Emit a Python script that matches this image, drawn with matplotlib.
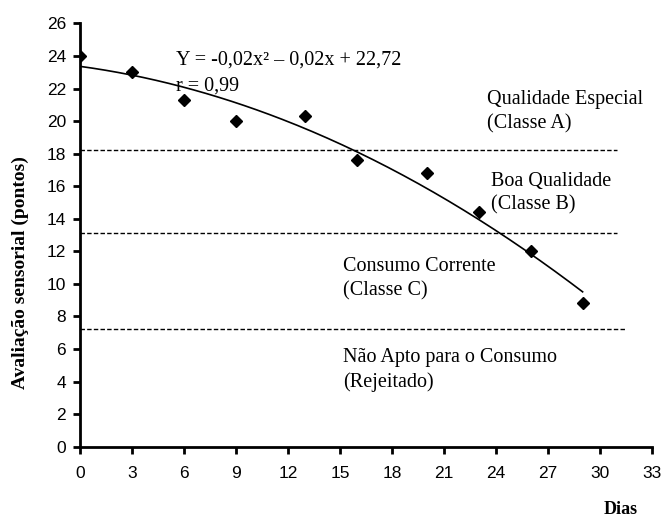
import numpy as np
import matplotlib
matplotlib.use("Agg")
import matplotlib.pyplot as plt

# Sensory evaluation scores over storage time
dias = [0, 3, 6, 9, 13, 16, 20, 23, 26, 29]
pontos = [24.0, 23.0, 21.3, 20.0, 20.3, 17.6, 16.8, 14.4, 12.0, 8.8]

# Class thresholds (points) and where each dashed line stops (days)
limites = [18.25, 13.15, 7.2]
limites_fim = [31.0, 31.0, 31.5]

x_ticks = list(range(0, 34, 3))
y_ticks = list(range(0, 27, 2))

serif = "Liberation Serif"
sans = "Liberation Sans"

fig = plt.figure(figsize=(6.62, 5.2), dpi=100)
ax = fig.add_axes([0.1208, 0.141, 0.864, 0.814])

# Quadratic trend line fitted to the scores
coef = np.polyfit(dias, pontos, 2)
xs = np.linspace(0, 29, 200)
ax.plot(xs, np.polyval(coef, xs), color="black", lw=1.2, zorder=2)

ax.plot(dias, pontos, linestyle="none", marker="D", markersize=6.5,
        color="black", zorder=3)

for y, xe in zip(limites, limites_fim):
    ax.plot([0, xe], [y, y], color="black", lw=1.0,
            linestyle=(0, (3.2, 1.6)), zorder=1)

ax.set_xlim(0, 33)
ax.set_ylim(0, 26)
ax.set_xticks(x_ticks)
ax.set_yticks(y_ticks)
for s in ("top", "right"):
    ax.spines[s].set_visible(False)
for s in ("left", "bottom"):
    ax.spines[s].set_linewidth(2.0)
ax.tick_params(direction="out", length=5, width=2.0, labelsize=12.5,
               pad=5)
ax.tick_params(axis="x", pad=9)
for lab in ax.get_xticklabels() + ax.get_yticklabels():
    lab.set_fontfamily(sans)

fs = 14.5
ax.text(5.55, 23.75, "Y = -0,02x\u00b2 \u2013 0,02x + 22,72", fontsize=fs,
        family=serif, va="center", ha="left")
ax.text(5.55, 22.15, "r = 0,99", fontsize=fs, family=serif,
        va="center", ha="left")

notas = [
    (23.5, 21.3, "Qualidade Especial"),
    (23.5, 19.8, "(Classe A)"),
    (23.7, 16.3, "Boa Qualidade"),
    (23.7, 14.85, "(Classe B)"),
    (15.2, 11.05, "Consumo Corrente"),
    (15.2, 9.55, "(Classe C)"),
    (15.2, 5.45, "N\u00e3o Apto para o Consumo"),
    (15.2, 3.95, "(Rejeitado)"),
]
for x, y, t in notas:
    ax.text(x, y, t, fontsize=fs, family=serif, va="center", ha="left")

fig.text(0.031, 0.475, "Avalia\u00e7\u00e3o sensorial (pontos)", rotation=90,
         fontsize=14, family=serif, fontweight="bold", va="center",
         ha="center")
fig.text(0.938, 0.012, "Dias", fontsize=13, family=serif,
         fontweight="bold", va="baseline", ha="center")

fig.savefig("out.png", dpi=100)
